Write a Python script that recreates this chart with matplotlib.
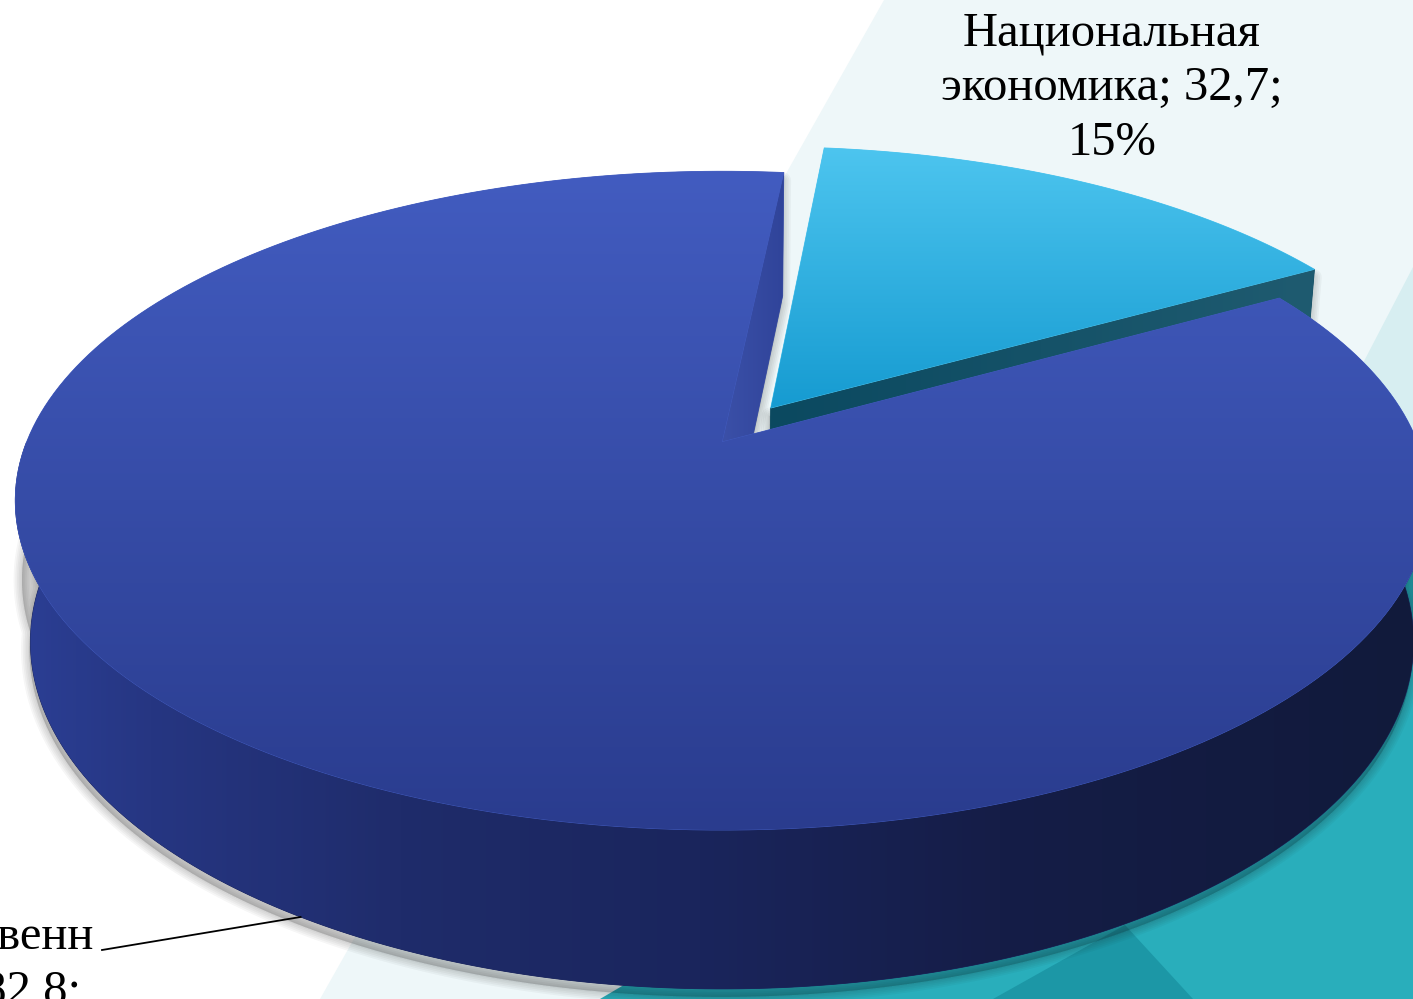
import numpy as np
import matplotlib
matplotlib.use("Agg")
import matplotlib.pyplot as plt
from matplotlib.patches import Polygon
from matplotlib.colors import to_rgb


# --- данные ---
categories = ["Национальная\nэкономика", "Общегосударственн\nые вопросы"]
values = [32.7, 182.8]
explode = [0.13, 0.0]

# цвета секторов: верхняя грань (верх/низ), радиальная грань (лево/право), боковина по x
top_colors = [("#4dc5ef", "#169bd1"), ("#425cc0", "#2a3c8e")]
face_colors = [("#0b4960", "#1f5b70"), ("#3b50a8", "#30449a")]
side_stops = [
    [(0, "#1f5b70"), (1413, "#1f5b70")],
    [(0, "#2c4097"), (150, "#263682"), (400, "#1f2c6b"), (700, "#1a255c"),
     (1000, "#151d47"), (1413, "#111a3b")],
]

W, H = 1413, 999

# --- параметры "камеры" для объемной диаграммы ---
CX, CY = 722, 442          # куда проецируется центр круга
F = 3470.0                 # фокусное расстояние, px
D = 4.99                   # расстояние до камеры (в радиусах)
ELEV = np.radians(27.3)    # угол наклона
DEPTH = 0.23               # толщина диска
START = 84.0               # угол начала первого сектора, по часовой


def project(x, y, z):
    c, s = np.cos(ELEV), np.sin(ELEV)
    d = D + y * c - z * s
    return CX + F * x / d, CY - F * (y * s + z * c) / d


def rim(a0, a1, z, off, n=240):
    t = np.radians(np.linspace(a0, a1, n))
    X, Y = project(off[0] + np.cos(t), off[1] + np.sin(t), np.full_like(t, z))
    return np.column_stack([X, Y])


def point(a, z, off, r=1.0):
    t = np.radians(a)
    X, Y = project(off[0] + r * np.cos(t), off[1] + r * np.sin(t), z)
    return np.array([X, Y])


def face_visible(a, normal_a, off):
    # грань видна, если нормаль смотрит на камеру
    t, tn = np.radians(a), np.radians(normal_a)
    px, py, pz = off[0] + 0.5 * np.cos(t), off[1] + 0.5 * np.sin(t), -DEPTH / 2
    cam = np.array([0.0, -D * np.cos(ELEV), D * np.sin(ELEV)])
    v = cam - np.array([px, py, pz])
    return np.cos(tn) * v[0] + np.sin(tn) * v[1] > 0


def fill_gradient(ax, xy, img, extent, zorder, base):
    # сплошная подложка (сглаженный край) + градиент, обрезанный по контуру
    ax.add_patch(Polygon(xy, closed=True, facecolor=base, edgecolor=base,
                         linewidth=0.6, zorder=zorder))
    clip = Polygon(xy, closed=True, facecolor="none", edgecolor="none")
    ax.add_patch(clip)
    im = ax.imshow(img, extent=extent, aspect="auto", zorder=zorder + 0.1,
                   interpolation="bilinear")
    im.set_clip_path(clip)


def vertical_img(c_top, c_bot, n=256):
    t = np.linspace(0, 1, n)[:, None, None]
    return (1 - t) * np.array(to_rgb(c_top)) + t * np.array(to_rgb(c_bot))


def horizontal_img(stops, n=512):
    xs = np.linspace(0, W, n)
    px = [s[0] for s in stops]
    cols = np.array([to_rgb(s[1]) for s in stops])
    rgb = np.stack([np.interp(xs, px, cols[:, k]) for k in range(3)], axis=-1)
    return rgb[None, :, :]


def shadow(ax, xy):
    # мягкая тень вниз: несколько полупрозрачных обводок разной толщины
    for lw in [12, 9.5, 7, 4.5, 2]:
        ax.add_patch(Polygon(xy + np.array([-1, 8]), closed=True, facecolor=(0, 0, 0, 0.04),
                             edgecolor=(0.1, 0.1, 0.1, 0.04), linewidth=lw,
                             joinstyle="round", zorder=2))


def fmt(v):
    return f"{v:.1f}".replace(".", ",")


fig = plt.figure(figsize=(W / 100, H / 100), dpi=100)
ax = fig.add_axes([0, 0, 1, 1])
fig.patch.set_facecolor("white")

# --- фон слайда ---
ax.add_patch(Polygon([(884, 0), (W, 0), (W, H), (320, H)], closed=True,
                     facecolor="#eef7f9", edgecolor="none", zorder=0))
ax.add_patch(Polygon([(W, 267), (W, H), (1032, H)], closed=True,
                     facecolor="#d7eef1", edgecolor="none", zorder=0.2))
ax.add_patch(Polygon([(600, H), (W, 520), (W, H)], closed=True,
                     facecolor="#29aebb", edgecolor="none", zorder=0.4))
ax.add_patch(Polygon([(993, H), (1125, 925), (1193, H)], closed=True,
                     facecolor="#1c97a6", edgecolor="none", zorder=0.5))

# --- секторы ---
total = sum(values)
fracs = [v / total for v in values]
slices = []
hi = START
for i, f in enumerate(fracs):
    lo = hi - 360 * f
    mid = np.radians((lo + hi) / 2)
    off = (explode[i] * np.cos(mid), explode[i] * np.sin(mid))
    slices.append((lo, hi, off))
    hi = lo

# дальний (выдвинутый) сектор рисуем первым
order = [0, 1]
for rank, i in enumerate(order):
    lo, hi, off = slices[i]
    z0 = 3 + rank * 2
    apex_t = np.array(project(off[0], off[1], 0.0))
    apex_b = np.array(project(off[0], off[1], -DEPTH))

    top_xy = np.vstack([apex_t, rim(lo, hi, 0.0, off)])

    # радиальные грани
    faces = []
    for a, na in [(lo, lo - 90), (hi, hi + 90)]:
        if face_visible(a, na, off):
            faces.append(np.vstack([apex_t, point(a, 0.0, off), point(a, -DEPTH, off), apex_b]))

    # боковая поверхность (только передняя половина)
    bands, band_shadows = [], []
    for k in (-1, 0, 1):
        b0, b1 = max(lo, 180 + 360 * k), min(hi, 360 + 360 * k)
        if b1 > b0:
            bands.append(np.vstack([rim(b0, b1, 0.0, off), rim(b1, b0, -DEPTH, off)]))
            # тень боковины: от середины высоты вниз, чтобы не вылезала над краем
            band_shadows.append(np.vstack([rim(b0, b1, -0.5 * DEPTH, off),
                                           rim(b1, b0, -DEPTH, off)]))

    for xy in faces + band_shadows:
        shadow(ax, xy)

    for xy in faces:
        fc = face_colors[i]
        img = horizontal_img([(xy[:, 0].min(), fc[0]), (xy[:, 0].max(), fc[1])])
        fill_gradient(ax, xy, img, (0, W, xy[:, 1].max(), xy[:, 1].min()), z0, fc[0])
    for xy in bands:
        img = horizontal_img(side_stops[i])
        fill_gradient(ax, xy, img, (0, W, xy[:, 1].max(), xy[:, 1].min()), z0 + 0.3,
                      side_stops[i][len(side_stops[i]) // 2][1])
    ct, cb = top_colors[i]
    y0, y1 = top_xy[:, 1].min(), top_xy[:, 1].max()
    fill_gradient(ax, top_xy, vertical_img(ct, cb), (0, W, y1, y0), z0 + 0.6, ct)

# --- подписи данных ---
labels = [f"{c}; {fmt(v)};\n{round(100 * f)}%" for c, v, f in zip(categories, values, fracs)]
font = dict(family="Liberation Serif", fontsize=35, color="black", linespacing=1.32)

# привязка по базовой линии последней строки
ax.text(1112, 155, labels[0], ha="center", va="baseline", multialignment="center",
        zorder=10, **font)

ax.text(93, 1059, labels[1], ha="right", va="baseline", multialignment="center",
        zorder=10, **font)
lo, hi, off = slices[1]
anchor = point((lo + hi) / 2 + 1.5, -DEPTH, off)
ax.plot([102, anchor[0]], [950, anchor[1]], color="black", linewidth=1.3, zorder=10)

ax.set_xlim(0, W)
ax.set_ylim(H, 0)
ax.axis("off")

fig.savefig("out.png", dpi=100, facecolor="white")
